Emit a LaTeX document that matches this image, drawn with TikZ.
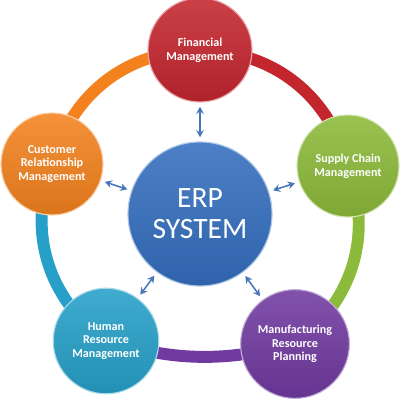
\documentclass[tikz,border=0pt]{standalone}
\usepackage{fontspec}
\setmainfont{Carlito}
\usetikzlibrary{arrows.meta,backgrounds}

\definecolor{erpblue}{RGB}{52,110,190}
\definecolor{finred}{RGB}{196,38,46}
\definecolor{scmgreen}{RGB}{140,186,58}
\definecolor{mrppurple}{RGB}{112,58,160}
\definecolor{hrmteal}{RGB}{38,160,200}
\definecolor{crmorange}{RGB}{243,130,30}
\definecolor{arrowblue}{RGB}{72,118,186}

\begin{document}
\begin{tikzpicture}[
    module/.style 2 args={circle, minimum size=#2, inner sep=0pt, align=center,
      top color=#1!88!white, bottom color=#1!90!black, draw=#1!40!white, line width=.8pt,
      text=white, font=\fontsize{8.6}{9.8}\selectfont\bfseries},
    ring/.style={line width=8.5pt, draw=#1},
    link/.style={arrowblue, line width=1.1pt, {Stealth[length=5pt,width=5.5pt]}-{Stealth[length=5pt,width=5.5pt]},
      shorten <=3pt, shorten >=3pt}
  ]
  \useasboundingbox (0,0) rectangle (10,10);
  % hub and the five modules
  \node[module={erpblue}{3.6cm}, font=\fontsize{21}{22}\selectfont] (erp) at (5,4.65) {ERP\\SYSTEM};
  \node[module={finred}{2.6cm}] (fin) at (5,8.75) {Financial\\Management};
  \node[module={scmgreen}{2.55cm}] (scm) at (8.7,5.85) {Supply Chain\\Management};
  \node[module={mrppurple}{2.72cm}] (mrp) at (7.375,1.4) {Manufacturing\\Resource\\Planning};
  \node[module={hrmteal}{2.64cm}] (hrm) at (2.65,1.475) {Human\\Resource\\Management};
  \node[module={crmorange}{2.55cm}] (crm) at (1.3,5.9) {Customer\\Relationship\\Management};

  % outer ring
  \begin{scope}[on background layer]
    \draw[ring=finred] (fin.center) to[bend left=37] (scm.center);
    \draw[ring=scmgreen] (scm.center) to[bend left=37] (mrp.center);
    \draw[ring=mrppurple] (mrp.center) to[bend left=15] (hrm.center);
    \draw[ring=hrmteal] (hrm.center) to[bend left=37] (crm.center);
    \draw[ring=crmorange] (crm.center) to[bend left=37] (fin.center);
  \end{scope}

  \draw[link] (erp) -- (fin);
  \draw[link] (erp) -- (scm);
  \draw[link] (erp) -- (mrp);
  \draw[link] (erp) -- (hrm);
  \draw[link] (erp) -- (crm);
\end{tikzpicture}
\end{document}
